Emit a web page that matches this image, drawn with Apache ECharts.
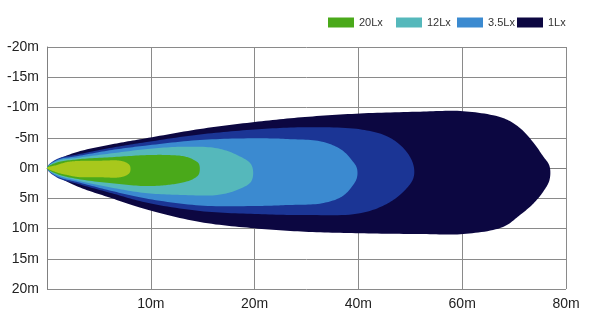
<!DOCTYPE html>
<html>
<head>
<meta charset="utf-8">
<script src="https://cdn.jsdelivr.net/npm/echarts@6/dist/echarts.min.js"></script>
<style>
html,body{margin:0;padding:0;background:#fff;}
#chart{width:600px;height:321px;}
</style>
</head>
<body>
<div id="chart"></div>
<script>
// Distance ticks (m) — gridlines are equally spaced on the chart
const xTickMeters = [0, 10, 20, 40, 60, 80];
const yMin = -20, yMax = 20, yStep = 5;
const legendNames = ['20Lx', '12Lx', '3.5Lx', '1Lx'];

// Contours: distance (m), upper edge (m), lower edge (m)
const lx1X      = [0, 0.96, 2.99, 6.26, 9.44, 14.74, 20, 29.7, 40.3, 51.9, 60.2, 67.86, 71.13, 73.63, 75.56, 76.82];
const lx1Top    = [0, -1.32, -2.69, -3.92, -4.88, -6.45, -7.6, -8.43, -9.01, -9.31, -9.39, -8.26, -6.61, -4.30, -1.98, -0.33];
const lx1Bottom = [0, 1.32, 3.09, 5.01, 6.78, 8.93, 9.97, 10.53, 10.79, 10.91, 10.91, 9.75, 7.77, 5.95, 3.97, 1.98];

const midX      = [0, 0.96, 2.99, 6.26, 9.44, 14.74, 20, 29.7, 40.3, 45.7, 49, 50.6];
const midTop    = [0, -1.49, -2.26, -3.36, -4.25, -5.54, -6.36, -6.73, -6.40, -5.17, -2.98, -0.50];
const midBottom = [0, 1.57, 2.64, 4.18, 5.67, 7.11, 7.60, 7.77, 7.49, 5.83, 3.64, 1.65];

const lx35X      = [0, 0.96, 2.99, 6.26, 9.44, 14.74, 20, 26.4, 33.0, 36.8, 38.7, 39.7];
const lx35Top    = [0, -1.32, -1.98, -2.98, -3.69, -4.63, -4.91, -4.79, -4.35, -2.98, -1.32, 0];
const lx35Bottom = [0, 1.40, 2.36, 3.80, 5.01, 6.20, 6.28, 6.12, 5.83, 4.74, 3.14, 1.65];

const lx12X      = [0, 0.96, 2.99, 6.26, 9.44, 13.1, 16.38, 18.3, 19.7];
const lx12Top    = [0, -1.16, -1.70, -2.43, -3.09, -3.52, -3.26, -2.15, -0.50];
const lx12Bottom = [0, 1.16, 2.10, 3.26, 4.13, 4.46, 4.46, 3.64, 2.15];

const lx20X      = [0, 0.96, 2.99, 6.26, 9.44, 11.56, 13.29, 14.16, 14.64];
const lx20Top    = [0, -0.91, -1.44, -1.79, -2.12, -2.15, -1.90, -1.32, -0.66];
const lx20Bottom = [0, 0.99, 1.82, 2.53, 2.98, 2.81, 2.31, 1.74, 0.99];

const coreX      = [0, 0.96, 1.93, 2.99, 5.11, 7.03, 7.71, 8.0];
const coreTop    = [0, -0.50, -0.99, -1.16, -1.21, -1.21, -0.83, -0.33];
const coreBottom = [0, 0.74, 1.16, 1.49, 1.54, 1.54, 1.16, 0.66];

// map metres onto the equally-spaced tick index axis
function toAxis(m) {
  for (let i = 1; i < xTickMeters.length; i++) {
    if (m <= xTickMeters[i]) {
      const a = xTickMeters[i - 1], b = xTickMeters[i];
      return (i - 1) + (m - a) / (b - a);
    }
  }
  return xTickMeters.length - 1;
}

// closed centripetal Catmull-Rom curve through pixel points, sampled densely
function smoothClosed(P) {
  const n = P.length, out = [], steps = 14;
  const dist = (a, b) => Math.pow(Math.hypot(b[0] - a[0], b[1] - a[1]), 0.5) || 1e-6;
  for (let i = 0; i < n; i++) {
    const p0 = P[(i - 1 + n) % n], p1 = P[i], p2 = P[(i + 1) % n], p3 = P[(i + 2) % n];
    const d1 = dist(p0, p1), d2 = dist(p1, p2), d3 = dist(p2, p3);
    const b1 = [0, 1].map(k => (d1 * d1 * p2[k] - d2 * d2 * p0[k] + (2 * d1 * d1 + 3 * d1 * d2 + d2 * d2) * p1[k]) / (3 * d1 * (d1 + d2)));
    const b2 = [0, 1].map(k => (d3 * d3 * p1[k] - d2 * d2 * p3[k] + (2 * d3 * d3 + 3 * d3 * d2 + d2 * d2) * p2[k]) / (3 * d3 * (d3 + d2)));
    for (let s = 0; s < steps; s++) {
      const t = s / steps, u = 1 - t;
      out.push([0, 1].map(k => u * u * u * p1[k] + 3 * u * u * t * b1[k] + 3 * u * t * t * b2[k] + t * t * t * p2[k]));
    }
  }
  return out;
}

function contourSeries(name, color, xs, top, bottom) {
  const pts = [];
  for (let i = 0; i < xs.length; i++) pts.push([toAxis(xs[i]), top[i]]);
  for (let i = xs.length - 1; i >= 1; i--) pts.push([toAxis(xs[i]), bottom[i]]);
  return {
    type: 'custom',
    name: name,
    data: pts,
    encode: { x: 0, y: 1 },
    itemStyle: { color: color },
    silent: true,
    renderItem: function (params, api) {
      if (params.dataIndex !== 0) return null;
      const points = smoothClosed(pts.map(p => api.coord(p)));
      return {
        type: 'polygon',
        shape: { points: points },
        style: { fill: color }
      };
    }
  };
}

const font = 'Liberation Sans, Arial, sans-serif';
function legendAt(name, left) {
  return {
    data: [name], left: left, top: 12, icon: 'rect',
    itemWidth: 26, itemHeight: 10,
    textStyle: { fontSize: 11, color: '#333', fontFamily: font },
    selectedMode: false
  };
}

const chart = echarts.init(document.getElementById('chart'));
chart.setOption({
  animation: false,
  backgroundColor: '#fff',
  grid: { left: 47, right: 34, top: 47, bottom: 32, containLabel: false },
  legend: [
    legendAt(legendNames[0], 323),
    legendAt(legendNames[1], 391),
    legendAt(legendNames[2], 452),
    legendAt(legendNames[3], 512)
  ],
  xAxis: {
    type: 'value', min: 0, max: xTickMeters.length - 1, interval: 1,
    axisLine: { show: true, lineStyle: { color: '#808080', width: 1 } },
    axisTick: { show: false },
    splitLine: { show: true, lineStyle: { color: '#8a8a8a', width: 1 } },
    axisLabel: {
      margin: 8, fontSize: 14, color: '#222', fontFamily: font,
      formatter: v => (v === 0 ? '' : xTickMeters[v] + 'm')
    }
  },
  yAxis: {
    type: 'value', inverse: true, min: yMin, max: yMax, interval: yStep,
    axisLine: { show: true, lineStyle: { color: '#808080', width: 1 } },
    axisTick: { show: false },
    splitLine: { show: true, lineStyle: { color: '#8a8a8a', width: 1 } },
    axisLabel: {
      margin: 8, fontSize: 14, color: '#222', fontFamily: font,
      formatter: v => v + 'm'
    }
  },
  series: [
    contourSeries('1Lx', '#0c0741', lx1X, lx1Top, lx1Bottom),
    contourSeries('2Lx', '#1b3595', midX, midTop, midBottom),
    contourSeries('3.5Lx', '#3b8ad0', lx35X, lx35Top, lx35Bottom),
    contourSeries('12Lx', '#55b8bb', lx12X, lx12Top, lx12Bottom),
    contourSeries('20Lx', '#4aa91a', lx20X, lx20Top, lx20Bottom),
    contourSeries('40Lx', '#a8c81c', coreX, coreTop, coreBottom)
  ]
});
</script>
</body>
</html>
